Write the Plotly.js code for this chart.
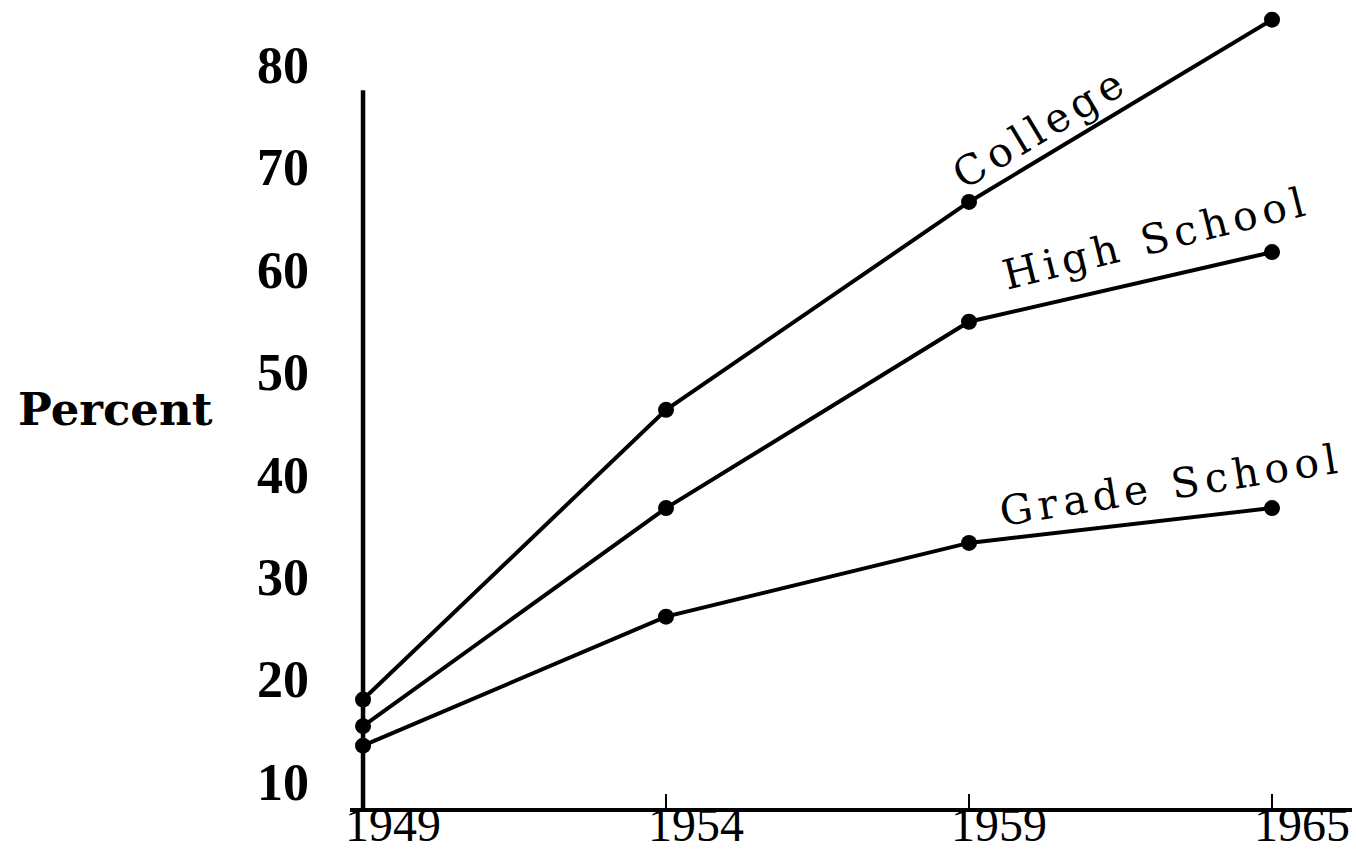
<!DOCTYPE html>
<html><head><meta charset="utf-8">
<script src="https://cdn.plot.ly/plotly-3.0.1.min.js"></script>
<style>
html,body{margin:0;padding:0;background:#fff;}
#chart{width:1356px;height:855px;}
</style>
</head><body><div id="chart"></div>
<script>
const years = ['1949', '1954', '1959', '1965'];
const college = [18.0, 46.3, 66.6, 84.4];
const highSchool = [15.4, 36.7, 54.9, 61.7];
const gradeSchool = [13.5, 26.1, 33.3, 36.7];
const seriesNames = ['College', 'High School', 'Grade School'];
const yTickVals = [10, 20, 30, 40, 50, 60, 70, 80];
const yAxisLabel = 'Percent';

const seriesValues = [college, highSchool, gradeSchool];
const traces = seriesValues.map((vals, i) => ({
  type: 'scatter',
  mode: 'lines+markers',
  x: years,
  y: vals,
  name: seriesNames[i],
  line: {color: '#000', width: 4},
  marker: {color: '#000', size: 16},
  cliponaxis: false,
  showlegend: false,
  hoverinfo: 'x+y+name'
}));

const labelFont = {family: 'DejaVu Serif', size: 41, color: '#000'};
// label placement (category index, value) and rotation along each line
const labelPos = [
  {x: 2.235, y: 73.8, angle: -31},
  {x: 2.62, y: 63.1, angle: -14},
  {x: 2.667, y: 38.96, angle: -9}
];
const annotations = seriesNames.map((n, i) => ({
  xref: 'x', yref: 'y', x: labelPos[i].x, y: labelPos[i].y,
  text: n, showarrow: false, textangle: labelPos[i].angle,
  xanchor: 'center', yanchor: 'middle', font: labelFont
}));
annotations.push({
  xref: 'paper', yref: 'paper', x: -0.2345, y: 0.4975,
  text: yAxisLabel, showarrow: false, xanchor: 'center', yanchor: 'middle',
  font: {family: 'DejaVu Serif', size: 45, color: '#000', weight: 'bold'}
});

const layout = {
  width: 1356, height: 855,
  margin: {l: 350, r: 4, t: 8, b: 47},
  paper_bgcolor: '#fff', plot_bgcolor: '#fff',
  showlegend: false,
  xaxis: {
    type: 'category',
    categoryorder: 'array', categoryarray: years,
    range: [-0.043, 3.264],
    showgrid: false, zeroline: false,
    showline: true, linecolor: '#000', linewidth: 4,
    ticks: 'inside', ticklen: 14, tickwidth: 2.5, tickcolor: '#000',
    ticklabelshift: 30,
    ticklabelstandoff: -29,
    tickfont: {family: 'Liberation Serif', size: 48, color: '#000'}
  },
  yaxis: {
    range: [7.41, 85.54],
    tickmode: 'array', tickvals: yTickVals, ticktext: yTickVals.map(String),
    showgrid: false, zeroline: false, showline: false, ticks: '',
    ticklabelstandoff: 40,
    tickfont: {family: 'Liberation Serif', size: 52, color: '#000', weight: 'bold'}
  },
  shapes: [{
    type: 'line', xref: 'x', yref: 'y', x0: 0, x1: 0, y0: 7.41, y1: 77.5,
    line: {color: '#000', width: 4.5}, layer: 'below'
  }],
  annotations: annotations
};

Plotly.newPlot('chart', traces, layout, {displayModeBar: false, staticPlot: true}).then(() => {
  document.querySelectorAll('.annotation-text').forEach(t => {
    if (seriesNames.includes(t.textContent)) t.style.letterSpacing = '5.5px';
  });
});
</script>
</body></html>
